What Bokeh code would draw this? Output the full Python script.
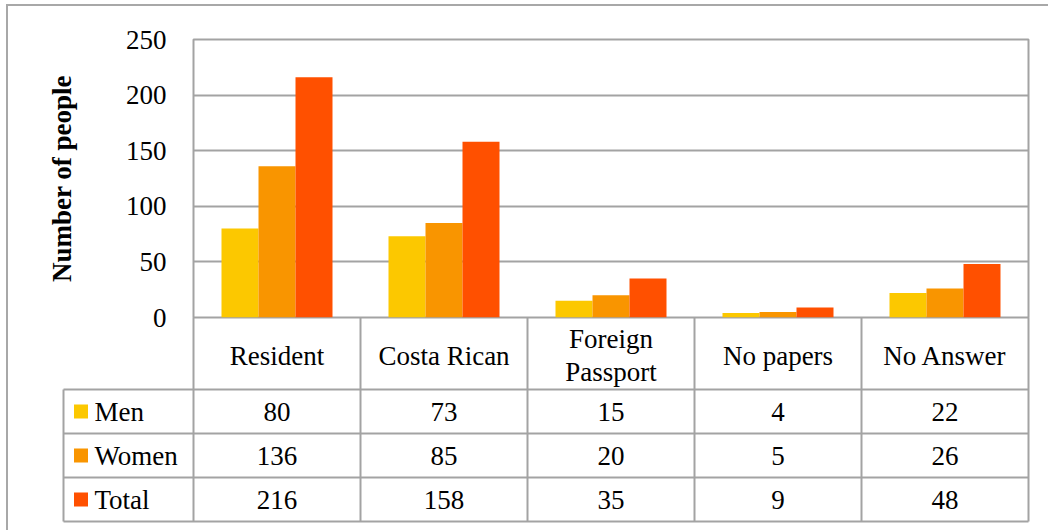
from bokeh.plotting import figure
from bokeh.models import Range1d, FixedTicker
from bokeh.layouts import column
from bokeh.embed import file_html
from bokeh.resources import INLINE
from bokeh.core.properties import value
import numpy as np

# ---- data ----
categories = ["Resident", "Costa Rican", "Foreign\nPassport", "No papers", "No Answer"]
series = ["Men", "Women", "Total"]
men = [80, 73, 15, 4, 22]
women = [136, 85, 20, 5, 26]
total = [216, 158, 35, 9, 48]
colors = ["#FCC800", "#F99500", "#FF5000"]
y_ticks = [0, 50, 100, 150, 200, 250]
y_label = "Number of people"

FONT = "Liberation Serif"
FS = "27px"
GRID = "#a3a3a3"
n = len(categories)
ns = len(series)
values = [men, women, total]

# layout constants (pixels)
FIG_W = 1040
LEFT_TOP = 185
FRAME_W = 835
RIGHT_TOP = FIG_W - LEFT_TOP - FRAME_W
UNIT = FRAME_W / n                  # px per category
PLOT_H = 278
TOP_PAD = 33
OVERLAP = 14
ROW_PX = 44
HEADER_PX = 72
LEG_PX = 130
PAD = 2
BOTTOM_EXTRA = 6

# ---- top figure: bars ----
top = figure(width=FIG_W, height=TOP_PAD + PLOT_H + OVERLAP,
             x_range=Range1d(0, n), y_range=Range1d(0, 250),
             output_backend="svg", toolbar_location=None,
             x_axis_location=None,
             min_border_left=LEFT_TOP, min_border_right=RIGHT_TOP,
             min_border_top=TOP_PAD, min_border_bottom=OVERLAP)
top.frame_align = False
top.outline_line_color = GRID
top.outline_line_width = 2
top.xgrid.visible = False
top.ygrid.ticker = FixedTicker(ticks=y_ticks)
top.ygrid.grid_line_color = GRID
top.ygrid.grid_line_width = 2
ax = top.yaxis[0]
ax.ticker = FixedTicker(ticks=y_ticks)
ax.axis_line_color = None
ax.major_tick_line_color = None
ax.minor_tick_line_color = None
ax.major_tick_out = 0
ax.major_tick_in = 0
ax.minor_tick_out = 0
ax.minor_tick_in = 0
ax.major_label_standoff = 27
ax.major_label_text_font = FONT
ax.major_label_text_font_size = FS
ax.major_label_text_color = "black"
ax.axis_label = y_label
ax.axis_label_standoff = 46
ax.axis_label_text_font = FONT
ax.axis_label_text_font_size = FS
ax.axis_label_text_font_style = "bold"
ax.axis_label_text_color = "black"

bw = 37 / UNIT
idx = np.arange(n)
for j, (vals, col) in enumerate(zip(values, colors)):
    top.vbar(x=idx + 0.5 + (j - 1) * bw, top=vals, bottom=0, width=bw,
             fill_color=col, line_color=None)

# ---- bottom figure: category header + data table ----
LEG_W = LEG_PX / UNIT
HDR = HEADER_PX / ROW_PX
xpad = PAD / UNIT
ypad = 3 / ROW_PX
LEFT_BOT = LEFT_TOP - LEG_PX - PAD
FRAME_W_BOT = FRAME_W + LEG_PX + 2 * PAD
bot = figure(width=FIG_W, height=HEADER_PX + ns * ROW_PX + 3 + BOTTOM_EXTRA,
             x_range=Range1d(-LEG_W - xpad, n + xpad),
             y_range=Range1d(-ypad, ns + HDR),
             output_backend="svg", toolbar_location=None,
             x_axis_location=None, y_axis_location=None,
             min_border_left=LEFT_BOT,
             min_border_right=FIG_W - LEFT_BOT - FRAME_W_BOT,
             min_border_top=0, min_border_bottom=BOTTOM_EXTRA,
             margin=(-OVERLAP, 0, 0, 0))
bot.frame_align = False
bot.outline_line_color = None
bot.background_fill_color = None
bot.border_fill_color = None
bot.xgrid.visible = False
bot.ygrid.visible = False

# table lines
hy = np.arange(0, ns + 1)
bot.segment(x0=-LEG_W, y0=hy, x1=n, y1=hy, line_color=GRID, line_width=2)
bot.segment(x0=-LEG_W, y0=0, x1=-LEG_W, y1=ns, line_color=GRID, line_width=2)
vx = np.arange(0, n + 1)
bot.segment(x0=vx, y0=0, x1=vx, y1=ns + HDR, line_color=GRID, line_width=2)

# category header
bot.text(x=idx + 0.5, y=ns + HDR / 2 - 0.05, text=categories,
         text_align="center", text_baseline="middle",
         text_font=value(FONT), text_font_size=FS, text_line_height=1.1,
         text_color="black")

# legend column
row_y = ns - 0.5 - np.arange(ns)
bot.scatter(x=-LEG_W + 17.5 / UNIT, y=row_y, marker="square", size=14,
            fill_color=colors, line_color=None)
bot.text(x=-LEG_W + 31 / UNIT, y=row_y, text=series,
         text_align="left", text_baseline="middle",
         text_font=value(FONT), text_font_size=FS, text_color="black")
# values
for j, vals in enumerate(values):
    bot.text(x=idx + 0.5, y=row_y[j], text=[str(v) for v in vals],
             text_align="center", text_baseline="middle",
             text_font=value(FONT), text_font_size=FS, text_color="black")

layout = column(top, bot, spacing=0, margin=(4, 0, 0, 6),
                styles={"border-left": "2px solid #a8a8a8",
                        "border-top": "2px solid #a8a8a8"})

open("out.html", "w").write(file_html(layout, INLINE))
